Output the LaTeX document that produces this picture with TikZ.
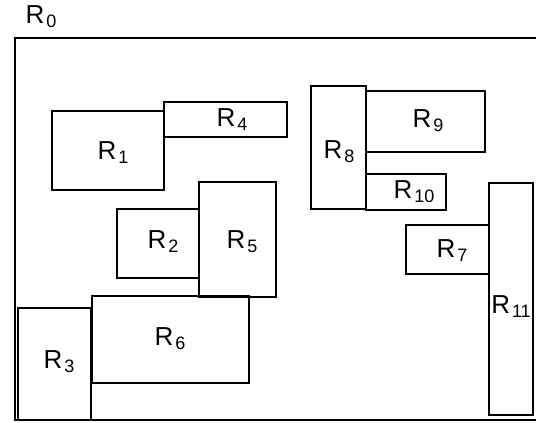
\documentclass[tikz,border=0pt]{standalone}
\usepackage{fontspec}
\setmainfont{Liberation Sans}
\usepackage{tikz}
\newcommand{\Rlbl}[1]{R\kern2pt\raisebox{-4pt}{\fontsize{18}{18}\selectfont #1}}

\begin{document}
\begin{tikzpicture}[x=1pt, y=-1pt, line width=1.2pt,
        lbl/.style={inner sep=0pt, font=\fontsize{26}{28}\selectfont}]
    \useasboundingbox (0,0) rectangle (536,423);
    \clip (0,0) rectangle (536,423);
    % --- outer region R0 (right edge runs off the page) ---
    \draw (15,38) rectangle (540,420);
    \node[lbl] (l0) at (41,17) {\Rlbl{0}};
    % --- left group ---
    \draw (52,111) rectangle (164,190);
    \node[lbl] (l1) at (113,153) {\Rlbl{1}};
    \draw (164,102) rectangle (287,137);
    \node[lbl] (l4) at (232,120) {\Rlbl{4}};
    \draw (117,209) rectangle (199,278);
    \node[lbl] (l2) at (163,242) {\Rlbl{2}};
    \draw (199,182) rectangle (276,297);
    \node[lbl] (l5) at (242,242) {\Rlbl{5}};
    \draw (92,296) rectangle (249,383);
    \node[lbl] (l6) at (170,339) {\Rlbl{6}};
    \draw (18,308) rectangle (91,420);
    \node[lbl] (l3) at (59,362) {\Rlbl{3}};
    % --- right group ---
    \draw (311,86) rectangle (366,209);
    \node[lbl] (l8) at (339,152) {\Rlbl{8}};
    \draw (366,91) rectangle (485,152);
    \node[lbl] (l9) at (428,121) {\Rlbl{9}};
    \draw (366,174) rectangle (446,210);
    \node[lbl] (l10) at (414,192) {\Rlbl{10}};
    \draw (406,225) rectangle (489,274);
    \node[lbl] (l7) at (452,251) {\Rlbl{7}};
    \draw (489,183) rectangle (533,415);
    \node[lbl] (l11) at (511,307) {\Rlbl{11}};
\end{tikzpicture}
\end{document}
